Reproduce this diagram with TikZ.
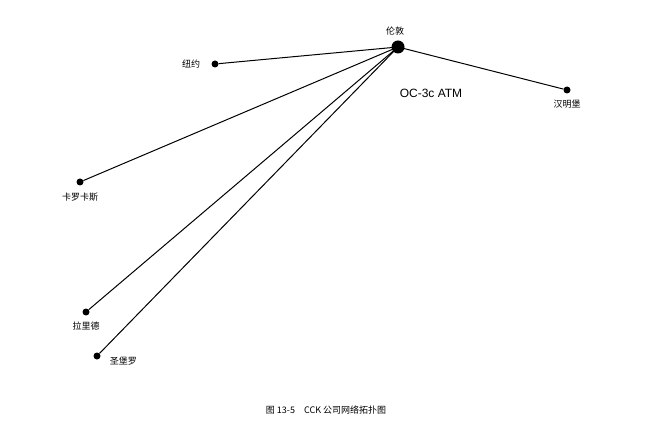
\documentclass[tikz,border=0pt]{standalone}
\usepackage{fontspec}
\setsansfont{Liberation Sans}
\newfontfamily\cjk{Noto Sans CJK SC}
\usetikzlibrary{positioning}
\tikzset{
  site/.style={circle,fill=black,inner sep=0pt,minimum size=7pt},
  hub/.style={circle,fill=black,inner sep=0pt,minimum size=13pt},
  lbl/.style={font=\cjk\fontsize{9}{10}\selectfont,inner sep=1pt},
  link/.style={line width=1pt}
}
\begin{document}
\begin{tikzpicture}[x=1pt,y=-1pt]
\useasboundingbox (0,0) rectangle (653,430);
\node[hub] (ld) at (398,47) {};
\node[site] (ny) at (215,64) {};
\node[site] (hb) at (567,90) {};
\node[site] (kk) at (80,182) {};
\node[site] (ll) at (86,312) {};
\node[site] (sb) at (97,356) {};

\node[lbl,above=4pt of ld,xshift=-3pt] {伦敦};
\node[lbl,left=10pt of ny] {纽约};
\node[lbl,below=5pt of hb] {汉明堡};
\node[lbl,below=6pt of kk] {卡罗卡斯};
\node[lbl,below=5pt of ll] {拉里德};
\node[lbl,right=8pt of sb,yshift=-5pt] {圣堡罗};
\node[font=\sffamily\fontsize{12}{14}\selectfont] (oc) at (431,93) {OC-3c ATM};

\foreach \s in {ny,hb,kk,ll,sb}
  \draw[link] (ld.center) -- (\s);

\node[font=\cjk\fontsize{9}{10}\selectfont] (cap) at (326,410) {图 13-5\quad CCK 公司网络拓扑图};
\end{tikzpicture}
\end{document}
